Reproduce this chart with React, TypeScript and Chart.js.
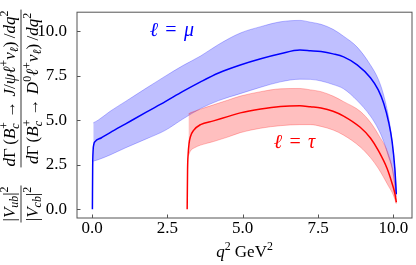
import React, { useEffect, useRef } from "react";
import { Chart, registerables } from "chart.js";

Chart.register(...registerables);

// ---- data ----
const muQ2 = [0.011, 0.02, 0.035, 0.06, 0.1, 0.3, 0.6, 1.1, 1.8, 2.43, 3.0, 3.6, 4.2, 4.92, 5.6, 6.25, 6.9, 7.25, 7.6, 8.0, 8.35, 8.8, 9.24, 9.5, 9.68, 9.85, 9.96, 10.05, 10.1];
const muCentral = [0, 2.3, 3.3, 3.65, 3.8, 4.0, 4.3, 4.78, 5.45, 6.04, 6.6, 7.15, 7.65, 8.1, 8.45, 8.73, 8.94, 8.9, 8.85, 8.72, 8.55, 8.1, 7.38, 6.7, 5.95, 4.85, 3.8, 2.3, 0.84];

const muBandQ2 = [0.04, 0.2, 0.6, 1.1, 1.8, 2.43, 3.0, 3.6, 4.2, 4.92, 5.6, 6.25, 6.9, 7.25, 7.6, 8.0, 8.35, 8.8, 9.24, 9.5, 9.68, 9.85, 9.96, 10.05, 10.1];
const muUpper = [4.85, 5.0, 5.5, 6.04, 6.8, 7.47, 8.05, 8.6, 9.25, 9.89, 10.25, 10.52, 10.6, 10.5, 10.38, 10.1, 9.71, 9.1, 8.1, 7.3, 6.4, 5.1, 3.8, 2.2, 1.0];
const muLower = [2.7, 2.78, 3.05, 3.44, 3.95, 4.43, 5.05, 5.65, 6.1, 6.49, 6.85, 7.15, 7.3, 7.29, 7.2, 7.0, 6.76, 6.1, 5.23, 4.5, 3.8, 2.9, 2.3, 1.4, 0.7];

const tauQ2 = [3.157, 3.17, 3.19, 3.22, 3.27, 3.37, 3.6, 4.03, 4.5, 4.92, 5.6, 6.25, 6.9, 7.25, 7.6, 8.0, 8.35, 8.9, 9.24, 9.5, 9.79, 9.95, 10.05, 10.1];
const tauCentral = [0, 2.2, 3.1, 3.7, 4.1, 4.43, 4.75, 4.96, 5.2, 5.41, 5.63, 5.77, 5.81, 5.75, 5.68, 5.5, 5.23, 4.6, 4.0, 3.3, 2.3, 1.5, 0.9, 0.39];

const tauBandQ2 = [3.2, 3.26, 3.4, 3.6, 4.03, 4.5, 4.92, 5.6, 6.25, 6.9, 7.25, 7.6, 8.0, 8.35, 8.9, 9.24, 9.5, 9.84, 10.0, 10.1];
const tauUpper = [5.35, 5.41, 5.5, 5.62, 5.86, 6.12, 6.35, 6.6, 6.76, 6.78, 6.7, 6.6, 6.35, 6.04, 5.5, 4.88, 4.2, 3.08, 2.0, 0.5];
const tauLower = [3.0, 3.26, 3.45, 3.6, 3.8, 4.05, 4.3, 4.55, 4.69, 4.75, 4.75, 4.65, 4.45, 4.16, 3.5, 2.9, 2.3, 1.3, 0.8, 0.3];

const xTicks = [0, 2.5, 5, 7.5, 10];
const yTicks = [0, 2.5, 5, 7.5, 10];

// label anchors in data coordinates
const muLabelPos = { x: 2.62, y: 9.75 };
const tauLabelPos = { x: 6.74, y: 3.45 };

const SERIF = '"Liberation Serif", "DejaVu Serif", serif';
const FRAME = "#555555";

type Seg = { t: string; it?: boolean; sub?: string; sup?: string };

const fnt = (size: number, it?: boolean) => `${it ? "italic " : ""}${size}px ${SERIF}`;
const isIt = (s: string) => /[a-zℓ]/.test(s);

function measureSegs(ctx: CanvasRenderingContext2D, segs: Seg[], f: number) {
  let w = 0;
  for (const s of segs) {
    ctx.font = fnt(f, s.it);
    w += ctx.measureText(s.t).width;
    let sw = 0;
    if (s.sub) { ctx.font = fnt(f * 0.7, isIt(s.sub)); sw = Math.max(sw, ctx.measureText(s.sub).width); }
    if (s.sup) { ctx.font = fnt(f * 0.7, isIt(s.sup)); sw = Math.max(sw, ctx.measureText(s.sup).width); }
    w += sw;
  }
  return w;
}

function drawSegs(ctx: CanvasRenderingContext2D, segs: Seg[], f: number, x: number, y: number) {
  ctx.textAlign = "left";
  ctx.textBaseline = "alphabetic";
  let cx = x;
  for (const s of segs) {
    ctx.font = fnt(f, s.it);
    ctx.fillText(s.t, cx, y);
    cx += ctx.measureText(s.t).width;
    let sw = 0;
    if (s.sub) {
      ctx.font = fnt(f * 0.7, isIt(s.sub));
      ctx.fillText(s.sub, cx, y + f * (s.sup ? 0.27 : 0.2));
      sw = Math.max(sw, ctx.measureText(s.sub).width);
    }
    if (s.sup) {
      ctx.font = fnt(f * 0.7, isIt(s.sup));
      ctx.fillText(s.sup, cx, y - f * 0.42);
      sw = Math.max(sw, ctx.measureText(s.sup).width);
    }
    cx += sw;
  }
  return cx - x;
}

const num1: Seg[] = [{ t: "|" }, { t: "V", it: true, sub: "ub" }, { t: "|", sup: "2" }];
const den1: Seg[] = [{ t: "|" }, { t: "V", it: true, sub: "cb" }, { t: "|", sup: "2" }];
const num2: Seg[] = [
  { t: "d", it: true }, { t: "Γ\u2009(" }, { t: "B", it: true, sub: "c", sup: "+" }, { t: " → " },
  { t: "J", it: true }, { t: "/" }, { t: "ψ", it: true }, { t: "ℓ", it: true, sup: "+" }, { t: "ν", it: true, sub: "ℓ" },
  { t: ")\u2009/" }, { t: "dq", it: true, sup: "2" },
];
const den2: Seg[] = [
  { t: "d", it: true }, { t: "Γ\u2009(" }, { t: "B", it: true, sub: "c", sup: "+" }, { t: " → " },
  { t: "D", it: true, sup: "0" }, { t: "ℓ", it: true, sup: "+" }, { t: "ν", it: true, sub: "ℓ" },
  { t: ")\u2009/" }, { t: "dq", it: true, sup: "2" },
];

function drawFraction(ctx: CanvasRenderingContext2D, num: Seg[], den: Seg[], f: number, cx: number) {
  const wn = measureSegs(ctx, num, f);
  const wd = measureSegs(ctx, den, f);
  const w = Math.max(wn, wd) + 2;
  drawSegs(ctx, num, f, cx - wn / 2, -0.36 * f);
  drawSegs(ctx, den, f, cx - wd / 2, 0.98 * f);
  ctx.fillRect(cx - w / 2, -0.4, w, 0.8);
}

const decorPlugin = {
  id: "decor",
  afterDraw(chart: any) {
    const ctx: CanvasRenderingContext2D = chart.ctx;
    const { left, right, top, bottom } = chart.chartArea;
    const xs = chart.scales.x;
    const ys = chart.scales.y;
    ctx.save();

    // frame + inward ticks
    ctx.strokeStyle = FRAME;
    ctx.lineWidth = 1;
    ctx.strokeRect(left, top, right - left, bottom - top);
    ctx.beginPath();
    for (const v of xTicks) {
      const px = Math.round(xs.getPixelForValue(v)) + 0.5;
      ctx.moveTo(px, bottom);
      ctx.lineTo(px, bottom - 3.5);
    }
    for (const v of yTicks) {
      const py = Math.round(ys.getPixelForValue(v)) + 0.5;
      ctx.moveTo(left, py);
      ctx.lineTo(left + 3.5, py);
    }
    ctx.stroke();

    // curve labels
    const drawEll = (pos: { x: number; y: number }, sym: string, color: string) => {
      const f = 20;
      const cx = xs.getPixelForValue(pos.x);
      const by = ys.getPixelForValue(pos.y);
      ctx.fillStyle = color;
      ctx.textBaseline = "alphabetic";
      ctx.font = fnt(f, true);
      ctx.textAlign = "right";
      ctx.fillText("ℓ", cx - 13, by);
      ctx.font = fnt(f, false);
      ctx.textAlign = "center";
      ctx.fillText("=", cx, by);
      ctx.font = fnt(f, true);
      ctx.textAlign = "left";
      ctx.fillText(sym, cx + 13, by);
    };
    drawEll(muLabelPos, "μ", "#0000ff");
    drawEll(tauLabelPos, "τ", "#ff0000");

    // x-axis title
    ctx.fillStyle = "#000";
    const xt: Seg[] = [{ t: "q", it: true, sup: "2" }, { t: " GeV", sup: "2" }];
    const fx = 17;
    const wx = measureSegs(ctx, xt, fx);
    drawSegs(ctx, xt, fx, (left + right) / 2 - wx / 2, 257);

    // y-axis title (rotated)
    ctx.translate(21, 233);
    ctx.rotate(-Math.PI / 2);
    const f0 = 14;
    const w2 = Math.max(measureSegs(ctx, num2, f0), measureSegs(ctx, den2, f0));
    const f = Math.max(12, Math.min(17, (f0 * 166) / w2));
    drawFraction(ctx, num1, den1, f, 29);
    drawFraction(ctx, num2, den2, f, 233 - 88.5);

    ctx.restore();
  },
};

const pts = (xs: number[], ys: number[]) => xs.map((x, i) => ({ x, y: ys[i] }));

export default function App() {
  const ref = useRef<HTMLCanvasElement | null>(null);
  useEffect(() => {
    if (!ref.current) return;
    const blueFill = "rgba(0,0,255,0.25)";
    const redFill = "rgba(255,0,0,0.25)";
    const tickFont = { family: SERIF, size: 17 };
    const common = { pointRadius: 0, cubicInterpolationMode: "monotone" };
    const chart = new Chart(ref.current, {
      type: "line",
      data: {
        datasets: [
          { ...common, data: pts(muBandQ2, muUpper), borderColor: blueFill, backgroundColor: blueFill, borderWidth: 1, fill: "+1", order: 4 } as any,
          { ...common, data: pts(muBandQ2, muLower), borderColor: blueFill, backgroundColor: blueFill, borderWidth: 1, fill: false, order: 4 } as any,
          { ...common, data: pts(tauBandQ2, tauUpper), borderColor: redFill, backgroundColor: redFill, borderWidth: 1, fill: "+1", order: 3 } as any,
          { ...common, data: pts(tauBandQ2, tauLower), borderColor: redFill, backgroundColor: redFill, borderWidth: 1, fill: false, order: 3 } as any,
          { ...common, data: pts(muQ2, muCentral), borderColor: "#0000ff", borderWidth: 1.5, fill: false, order: 2 } as any,
          { ...common, data: pts(tauQ2, tauCentral), borderColor: "#ff0000", borderWidth: 1.5, fill: false, order: 1 } as any,
        ],
      },
      options: {
        animation: false,
        responsive: false,
        devicePixelRatio: 1,
        parsing: false as any,
        layout: { padding: { left: 0, right: 4, top: 3, bottom: 0 } },
        plugins: { legend: { display: false }, tooltip: { enabled: false } },
        scales: {
          x: {
            type: "linear",
            min: -0.5,
            max: 10.62,
            grid: { display: false },
            border: { display: false },
            ticks: { font: tickFont, color: "#000", padding: -8, autoSkip: false, maxRotation: 0, callback: (v: any) => Number(v).toFixed(1) },
            afterBuildTicks: (s: any) => { s.ticks = xTicks.map((v) => ({ value: v })); },
            afterFit: (s: any) => { s.height = 47; },
          },
          y: {
            type: "linear",
            min: -0.49,
            max: 11.06,
            grid: { display: false },
            border: { display: false },
            ticks: { font: tickFont, color: "#000", padding: 2, autoSkip: false, callback: (v: any) => Number(v).toFixed(1) },
            afterBuildTicks: (s: any) => { s.ticks = yTicks.map((v) => ({ value: v })); },
            afterFit: (s: any) => { s.width = 77; },
          },
        },
      },
      plugins: [decorPlugin],
    });
    return () => chart.destroy();
  }, []);
  return (
    <div style={{ position: "absolute", left: 0, top: 0, width: 416, height: 265, background: "#fff" }}>
      <canvas ref={ref} width={416} height={265} style={{ display: "block" }} />
    </div>
  );
}
